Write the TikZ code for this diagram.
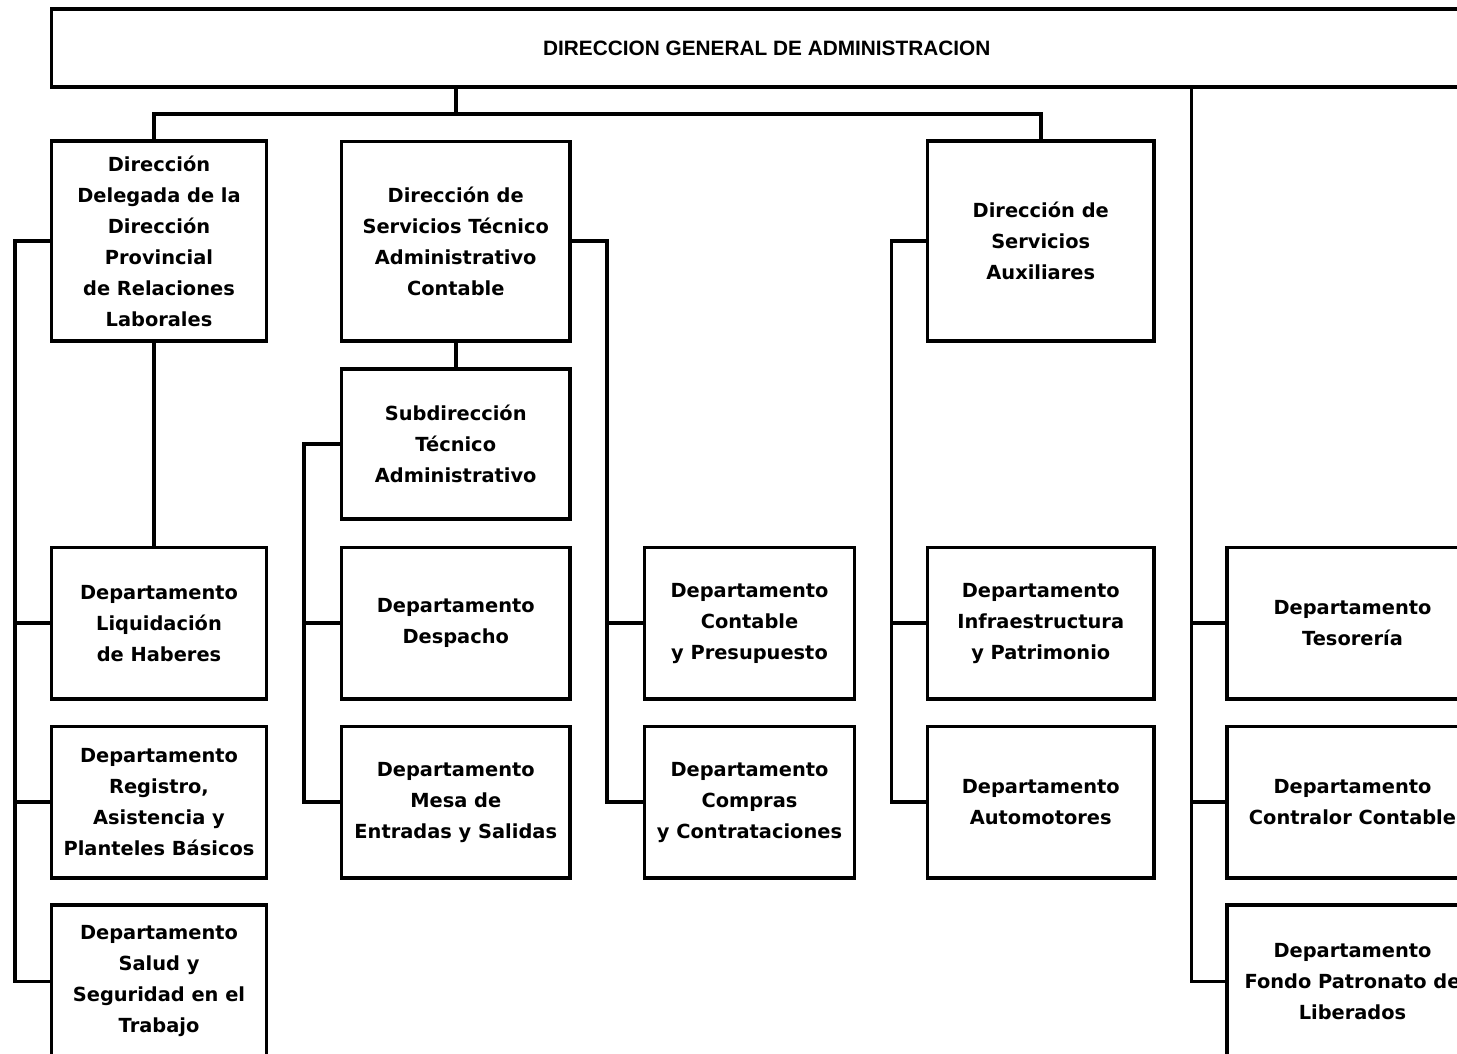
\documentclass[tikz,border=0pt]{standalone}
\usepackage{fontspec}
\setmainfont{DejaVu Sans}
\newfontfamily\titlefont{Liberation Sans}
\newcommand\mkbox[6]{\node[orgbox, minimum width={(#4-#2)*0.5pt}, minimum height={(#5-#3)*0.5pt}] (#1) at ({(#2+#4)/2},{(#3+#5)/2}) {#6};}
\begin{document}
\begin{tikzpicture}[x=0.5pt,y=-0.5pt,
  orgbox/.style={draw, line width=1.9pt, align=center, inner sep=0pt,
    font=\bfseries\fontsize{9.7}{15.5}\selectfont},
  titlestyle/.style={font=\titlefont\bfseries\fontsize{10.4}{12}\selectfont},
  conn/.style={line width=1.8pt}]
\fill[white] (0,0) rectangle (1457,1054);
\useasboundingbox (0,0) rectangle (1457,1054);
\clip (0,0) rectangle (1457,1054);

\mkbox{title}{51.5}{9}{1482}{87}{\titlefont\fontsize{10.4}{12}\selectfont DIRECCION GENERAL DE ADMINISTRACION}
\mkbox{A}{51.5}{141}{266.5}{341}{Dirección\\Delegada de la\\Dirección\\Provincial\\de Relaciones\\Laborales}
\mkbox{B}{341.5}{141.5}{570}{341}{Dirección de\\Servicios Técnico\\Administrativo\\Contable}
\mkbox{C}{927.5}{141}{1154}{341}{Dirección de\\Servicios\\Auxiliares}
\mkbox{Sub}{341.5}{369}{570}{519}{Subdirección\\Técnico\\Administrativo}
\mkbox{Liq}{51.5}{547.5}{266.5}{699}{Departamento\\Liquidación\\de Haberes}
\mkbox{Reg}{51.5}{726.5}{266.5}{878}{Departamento\\Registro,\\Asistencia y\\Planteles Básicos}
\mkbox{Salud}{51.5}{905}{266.5}{1058}{Departamento\\Salud y\\Seguridad en el\\Trabajo}
\mkbox{Desp}{341.5}{547.5}{570}{699}{Departamento\\Despacho}
\mkbox{Mesa}{341.5}{726.5}{570}{878}{Departamento\\Mesa de\\Entradas y Salidas}
\mkbox{Cont}{644.5}{547.5}{854.5}{699}{Departamento\\Contable\\y Presupuesto}
\mkbox{Comp}{644.5}{726.5}{854.5}{878}{Departamento\\Compras\\y Contrataciones}
\mkbox{Infra}{927.5}{547.5}{1154}{699}{Departamento\\Infraestructura\\y Patrimonio}
\mkbox{Auto}{927.5}{726.5}{1154}{878}{Departamento\\Automotores}
\mkbox{Teso}{1227}{547.5}{1478}{699}{Departamento\\Tesorería}
\mkbox{Contr}{1227}{726.5}{1478}{878}{Departamento\\Contralor Contable}
\mkbox{Fondo}{1227}{905}{1478}{1058}{Departamento\\Fondo Patronato de\\Liberados}

\coordinate (busTop) at (0,114);
\coordinate (lb) at (15,0);
\coordinate (sb) at (304,0);
\coordinate (bb) at (607,0);
\coordinate (cb) at (891.5,0);
\coordinate (rb) at (1191.5,0);
\coordinate (aX) at (154,0);

% top level
\draw[conn] (title.south -| B.north) -- (B.north |- busTop);
\draw[conn] (aX |- A.north) |- (C.north |- busTop) -- (C.north);
% right column
\draw[conn] (title.south -| rb) -- (rb |- Fondo.west) -- (Fondo.west);
\draw[conn] (rb |- Teso.west) -- (Teso.west);
\draw[conn] (rb |- Contr.west) -- (Contr.west);
% A
\draw[conn] (aX |- A.south) -- (aX |- Liq.north);
\draw[conn] (A.west) -| (lb |- Salud.west) -- (Salud.west);
\draw[conn] (lb |- Liq.west) -- (Liq.west);
\draw[conn] (lb |- Reg.west) -- (Reg.west);
% B
\draw[conn] (B.south) -- (Sub.north);
\draw[conn] (B.east) -| (bb |- Comp.west) -- (Comp.west);
\draw[conn] (bb |- Cont.west) -- (Cont.west);
% Sub
\draw[conn] (Sub.west) -| (sb |- Mesa.west) -- (Mesa.west);
\draw[conn] (sb |- Desp.west) -- (Desp.west);
% C
\draw[conn] (C.west) -| (cb |- Auto.west) -- (Auto.west);
\draw[conn] (cb |- Infra.west) -- (Infra.west);
\end{tikzpicture}
\end{document}
